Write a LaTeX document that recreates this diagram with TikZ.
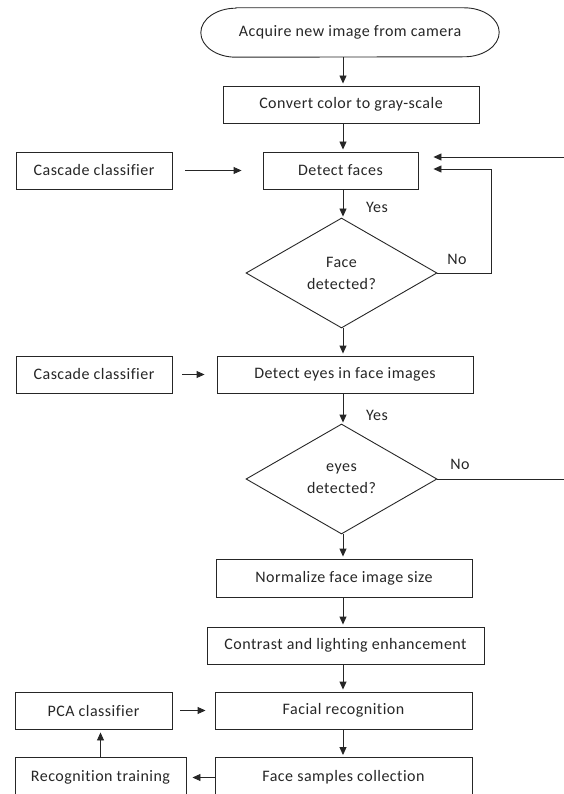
\documentclass[tikz,border=0pt]{standalone}
\usepackage{fontspec}
\setmainfont[LetterSpace=3,Ligatures=NoCommon]{Carlito}
\usetikzlibrary{arrows.meta,shapes.geometric,calc}
\begin{document}
\begin{tikzpicture}[x=1pt,y=-1pt,
  line/.style={draw=black!85, line width=0.9pt},
  txt/.style={inner sep=0pt, font=\fontsize{16}{22}\selectfont, text=black!85},
  box/.style={txt, line, rectangle, minimum height=37pt},
  dec/.style={txt, line, diamond, aspect=1.736, minimum width=191pt, minimum height=110pt, align=center},
  arr/.style={line, -{Triangle[length=8pt,width=7pt]}},
  lbl/.style={txt}]
\useasboundingbox (0,0) rectangle (564,794);
\clip (0,0) rectangle (564,794);
\coordinate (col) at (343,0);

% main column
\node[txt, minimum width=298pt, minimum height=49pt] (acq) at (350,32.5) {Acquire new image from camera};
\draw[line] ([xshift=35pt]acq.north west) -- ([xshift=-35pt]acq.north east)
  arc[start angle=90, end angle=-90, x radius=35pt, y radius=24.5pt]
  -- ([xshift=35pt]acq.south west)
  arc[start angle=270, end angle=90, x radius=35pt, y radius=24.5pt] -- cycle;
\node[box, minimum width=256pt] (conv) at (351,104.5) {Convert color to gray-scale};
\node[box, minimum width=155pt] (dfaces) at (340.5,170.5) {Detect faces};
\node[dec] (dec1) at (341.5,273) {Face\\detected?};
\node[box, minimum width=256pt] (deyes) at (345,374.5) {Detect eyes in face images};
\node[dec] (dec2) at (341.5,479) {eyes\\detected?};
\node[box, minimum width=256pt, minimum height=38pt] (norm) at (344,578) {Normalize face image size};
\node[box, minimum width=277pt] (contr) at (345.5,645.5) {Contrast and lighting enhancement};
\node[box, minimum width=257pt] (facial) at (343.5,710.5) {Facial recognition};
\node[box, minimum width=257pt, minimum height=40pt] (samples) at (343.5,777.5) {Face samples collection};

% side boxes
\node[box, minimum width=156pt] (casc1) at (94,170.5) {Cascade classifier};
\node[box, minimum width=156pt] (casc2) at (94,374.5) {Cascade classifier};
\node[box, minimum width=157pt] (pca) at (93.5,710.5) {PCA classifier};
\node[box, minimum width=171pt, minimum height=40pt] (rtrain) at (100.5,777.5) {Recognition training};

% labels
\node[lbl] (yes1) at (377,207) {Yes};
\node[lbl] (no1) at (457,259) {No};
\node[lbl] (yes2) at (377,415) {Yes};
\node[lbl] (no2) at (460,464) {No};

% main arrows
\draw[arr, shorten >=2pt] (acq.south -| col) -- (conv.north -| col);
\draw[arr, shorten >=2pt] (conv.south -| col) -- (dfaces.north -| col);
\draw[arr, shorten >=1pt] (dfaces.south -| col) -- (dec1.north -| col);
\draw[arr, shorten >=2pt] (dec1.south -| col) -- (deyes.north -| col);
\draw[arr, shorten >=1pt] (deyes.south -| col) -- (dec2.north -| col);
\draw[arr, shorten >=2pt] (dec2.south -| col) -- (norm.north -| col);
\draw[arr, shorten >=2pt] (norm.south -| col) -- (contr.north -| col);
\draw[arr, shorten >=2pt] (contr.south -| col) -- (facial.north -| col);
\draw[arr, shorten >=2pt] (facial.south -| col) -- (samples.north -| col);

% side arrows
\draw[arr, shorten <=13pt, shorten >=21pt] (casc1.east) -- (dfaces.west);
\draw[arr, shorten <=10pt, shorten >=12pt] (casc2.east) -- (deyes.west);
\draw[arr, shorten <=8pt, shorten >=9pt] (pca.east) -- (facial.west);
\draw[arr, shorten >=6pt] (samples.west) -- (rtrain.east);
\draw[arr, shorten >=3pt] (rtrain.north) -- (rtrain.north |- pca.south);

% right side loops
\coordinate (inR) at (564,157);
\draw[arr, shorten >=15pt] (inR) -- (inR -| dfaces.east);
\coordinate (loop) at (491,169);
\draw[arr, shorten >=15pt] (dec1.east) -| (loop) -- (loop -| dfaces.east);
\coordinate (outR) at (564,479);
\draw[line] (dec2.east) -- (outR);
\end{tikzpicture}
\end{document}
